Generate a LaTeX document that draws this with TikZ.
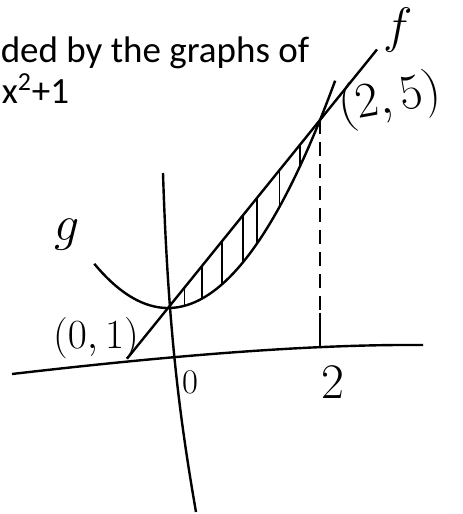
\documentclass[tikz,border=0pt]{standalone}
\usepackage{fontspec}
\setmainfont{Carlito}
\usetikzlibrary{calc}
\tikzset{every picture/.style={line width=0.75pt}}

\begin{document}
\begin{tikzpicture}[x=0.5pt,y=-0.5pt]
    \useasboundingbox (0,0) rectangle (462,514);

    % 题目文字
    \node[anchor=base west, inner sep=0pt, font=\fontsize{18.5}{22}\selectfont] (title) at (0,62) {ded by the graphs of};
    \node[anchor=base west, inner sep=0pt, font=\fontsize{18.5}{22}\selectfont] (gfun) at (1,103) {x\textsuperscript{2}+1};

    % 绘制坐标轴
    \draw[line width=1.2pt] (12,374) .. controls (150,358) and (300,344) .. (423,345);
    \draw[line width=1.2pt] (163,173) .. controls (168,330) and (180,420) .. (196,512);

    \coordinate (O) at (168,355);
    \begin{scope}[shift={(O)}, x=38pt, y=23.5pt]
        \coordinate (A) at (0,1);
        \coordinate (B) at (2,5);
        \coordinate (T) at (2,0.9);

        % 直线 f
        \draw[line width=1.2pt] (-0.54,-0.08) -- (2.75,6.5);

        % 抛物线 g
        \draw[line width=1.2pt, domain=-0.97:2.2, samples=100] plot (\x, {\x*\x+1});

        % 阴影竖线
        \foreach \x in {0.22,0.45,0.71,0.99,1.17,1.47,1.74}
            \draw (\x,{\x*\x+1}) -- (\x,{2*\x+1});

        % 虚线与刻度
        \draw[dashed, dash pattern=on 7pt off 4pt] (B) -- (T);
        \draw (T) -- (2,0.15);
    \end{scope}

    % 手写标注
    \node[font=\fontsize{34}{34}\selectfont] (flab) at (398,30) {$f$};
    \node[font=\fontsize{50}{50}\selectfont] (glab) at (67,235) {$g$};
    \node[font=\fontsize{32}{32}\selectfont, rotate=10] (Blab) at (390,100) {$(2,5)$};
    \node[font=\fontsize{20}{20}\selectfont] (Alab) at (96,338) {$(0,1)$};
    \node[font=\fontsize{19}{19}\selectfont] (zero) at (190,382) {$0$};
    \node[font=\fontsize{26}{26}\selectfont] (two) at (333,382) {$2$};
\end{tikzpicture}
\end{document}
